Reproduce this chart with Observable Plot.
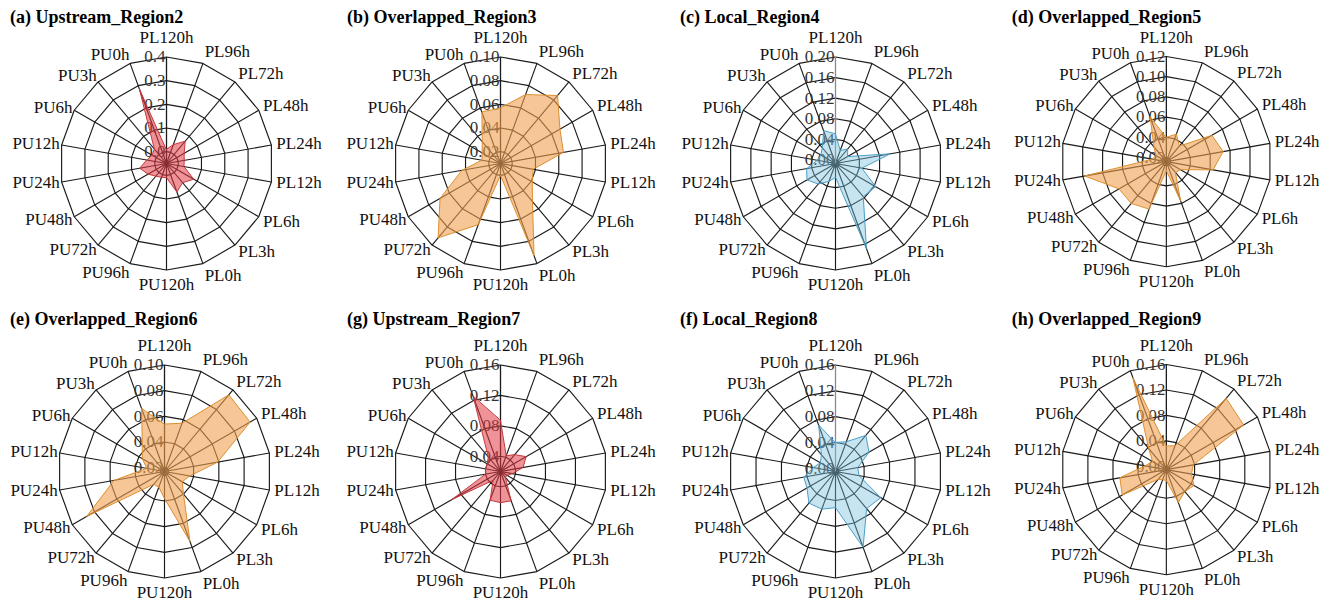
<!DOCTYPE html>
<html>
<head>
<meta charset="utf-8">
<script src="https://cdn.jsdelivr.net/npm/d3@7"></script>
<script src="https://cdn.jsdelivr.net/npm/@observablehq/plot@0.6"></script>
<style>
  html, body { margin: 0; padding: 0; background: #fff; }
  body { width: 1334px; height: 603px; overflow: hidden; position: relative;
         font-family: "Liberation Serif", "Times New Roman", serif; }
  .panel { position: absolute; }
  .title { position: absolute; font-weight: bold; font-size: 18px; line-height: 1;
           white-space: nowrap; color: #000; z-index: 2; }
</style>
</head>
<body>
<script>
// ---------- data ----------
const axes = ["PL120h","PL96h","PL72h","PL48h","PL24h","PL12h","PL6h","PL3h","PL0h",
              "PU120h","PU96h","PU72h","PU48h","PU24h","PU12h","PU6h","PU3h","PU0h"];

const titles = ["(a) Upstream_Region2","(b) Overlapped_Region3","(c) Local_Region4","(d) Overlapped_Region5",
                "(e) Overlapped_Region6","(g) Upstream_Region7","(f) Local_Region8","(h) Overlapped_Region9"];

const kinds = ["Upstream","Overlapped","Local","Overlapped","Overlapped","Upstream","Local","Overlapped"];

const upstreamRegion2   = [0.010,0.035,0.073,0.036,0.026,0.025,0.083,0.056,0.078,0.010,0.012,0.020,0.040,0.065,0.035,0.020,0.030,0.285];
const overlappedRegion3 = [0.057,0.072,0.085,0.068,0.064,0.038,0.041,0.052,0.093,0.020,0.065,0.092,0.069,0.043,0.026,0.028,0.034,0.056];
const localRegion4      = [0.050,0.020,0.030,0.020,0.101,0.045,0.083,0.077,0.169,0.020,0.030,0.045,0.057,0.050,0.029,0.026,0.033,0.060];
const overlappedRegion5 = [0.040,0.045,0.036,0.068,0.073,0.063,0.032,0.030,0.057,0.025,0.066,0.070,0.070,0.098,0.030,0.028,0.035,0.063];
const overlappedRegion6 = [0.054,0.057,0.095,0.094,0.059,0.037,0.033,0.040,0.075,0.038,0.030,0.030,0.087,0.057,0.031,0.037,0.044,0.069];
const upstreamRegion7   = [0.087,0.042,0.049,0.059,0.050,0.036,0.030,0.030,0.061,0.061,0.060,0.035,0.094,0.040,0.040,0.040,0.045,0.125];
const localRegion8      = [0.040,0.044,0.068,0.055,0.030,0.032,0.076,0.070,0.120,0.051,0.057,0.059,0.046,0.045,0.030,0.022,0.029,0.071];
const overlappedRegion9 = [0.032,0.035,0.141,0.135,0.038,0.035,0.045,0.040,0.050,0.012,0.012,0.015,0.075,0.069,0.029,0.020,0.038,0.148];

const ticksA = [0, 0.1, 0.2, 0.3, 0.4];               const tickTextA = ["0.0","0.1","0.2","0.3","0.4"];
const ticksB = [0.02, 0.04, 0.06, 0.08, 0.10];        const tickTextB = ["0.02","0.04","0.06","0.08","0.10"];
const ticksC = [0, 0.04, 0.08, 0.12, 0.16, 0.20];     const tickTextC = ["0.00","0.04","0.08","0.12","0.16","0.20"];
const ticksD = [0.02, 0.04, 0.06, 0.08, 0.10, 0.12];  const tickTextD = ["0.02","0.04","0.06","0.08","0.10","0.12"];
const ticksE = [0.02, 0.04, 0.06, 0.08, 0.10];        const tickTextE = ["0.02","0.04","0.06","0.08","0.10"];
const ticksG = [0.04, 0.08, 0.12, 0.16];              const tickTextG = ["0.04","0.08","0.12","0.16"];
const ticksF = [0, 0.04, 0.08, 0.12, 0.16];           const tickTextF = ["0.00","0.04","0.08","0.12","0.16"];
const ticksH = [0, 0.04, 0.08, 0.12, 0.16];           const tickTextH = ["0.00","0.04","0.08","0.12","0.16"];

// radial scale: value at the centre and at the outer ring
const radialLow  = [-0.05, 0.01, -0.007, 0.016, 0.017, 0.02, -0.005, -0.005];
const radialHigh = [0.4, 0.10, 0.20, 0.12, 0.10, 0.16, 0.16, 0.16];

// ---------- styling / layout ----------
const palette = {
  Upstream:   {fill: "#e23a44", opacity: 0.55, stroke: "#c43a3f", spoke0: "#1a1a1a"},
  Overlapped: {fill: "#f0a050", opacity: 0.60, stroke: "#dd8f2e", spoke0: "#1a1a1a"},
  Local:      {fill: "#79bedd", opacity: 0.42, stroke: "#4a9fc8", spoke0: "#8a8a8a"}
};
const centers = [[165.5,163],[500,162.7],[835,162.7],[1168.3,162.7],
                 [164,470.5],[500,470.7],[835,470.7],[1168.3,470.7]];
const titlePos = [[10,8],[347,8],[680,8],[1011.7,8],
                  [10,310],[347,310],[680,310],[1011.7,310]];
const labelDy = [-14,-7,-5,-2,-1,0,2,3,7, 10,7,3,2,0,-1,-2,-5,-7];

const seriesList = [upstreamRegion2, overlappedRegion3, localRegion4, overlappedRegion5,
                    overlappedRegion6, upstreamRegion7, localRegion8, overlappedRegion9];
const tickList = [ticksA,ticksB,ticksC,ticksD,ticksE,ticksG,ticksF,ticksH];
const tickTextList = [tickTextA,tickTextB,tickTextC,tickTextD,tickTextE,tickTextG,tickTextF,tickTextH];

const R = 106.5, W = 340, H = 300;
const n = axes.length;
const theta = i => 2 * Math.PI * i / n;
const FONT = "'Liberation Serif', 'Times New Roman', serif";

function radar(k) {
  const lo = radialLow[k], hi = radialHigh[k];
  const rn = v => Math.max(0, (v - lo) / (hi - lo));
  const col = palette[kinds[k]];
  const values = seriesList[k];
  const ticks = tickList[k];
  const tickText = tickTextList[k];

  const pts = values.map((v, i) => ({axis: axes[i], v, i}));
  const ringPts = ticks.filter(t => rn(t) > 0.001)
    .flatMap(t => axes.map((a, i) => ({t, i})));
  const spokes = axes.map((a, i) => ({a, i}));

  const labelMarks = axes.map((a, i) => {
    const s = Math.sin(theta(i)), c = Math.cos(theta(i));
    const side = Math.abs(s) < 0.01 ? "middle" : (s > 0 ? "start" : "end");
    const rr = 1 + (side === "end" ? 2 : 5) / R;
    return Plot.text([a], {
      x: () => rr * s, y: () => rr * c, text: d => d,
      textAnchor: side, dy: labelDy[i], fontSize: 17, fill: "#111", fontFamily: FONT
    });
  });

  return Plot.plot({
    width: W, height: H, margin: 0,
    x: {domain: [-W / 2 / R, W / 2 / R], axis: null},
    y: {domain: [-H / 2 / R, H / 2 / R], axis: null},
    style: {fontFamily: FONT, background: "transparent", overflow: "visible"},
    marks: [
      Plot.line(ringPts, {
        x: d => rn(d.t) * Math.sin(theta(d.i)), y: d => rn(d.t) * Math.cos(theta(d.i)),
        z: "t", curve: "linear-closed", stroke: "#1a1a1a", strokeWidth: 1.15
      }),
      Plot.link(spokes.filter(d => d.i !== 0), {
        x1: () => 0, y1: () => 0,
        x2: d => Math.sin(theta(d.i)), y2: d => Math.cos(theta(d.i)),
        stroke: "#1a1a1a", strokeWidth: 1.15
      }),
      Plot.link(spokes.filter(d => d.i === 0), {
        x1: () => 0, y1: () => 0,
        x2: d => Math.sin(theta(d.i)), y2: d => Math.cos(theta(d.i)),
        stroke: col.spoke0, strokeWidth: 1.3
      }),
      Plot.text(ticks, {
        x: () => 0, y: t => rn(t), text: (t, i) => tickText[i],
        textAnchor: "end", dx: -1, fontSize: 17, fill: "#333", fontFamily: FONT
      }),
      Plot.line(pts, {
        x: d => rn(d.v) * Math.sin(theta(d.i)), y: d => rn(d.v) * Math.cos(theta(d.i)),
        curve: "linear-closed", fill: col.fill, fillOpacity: col.opacity,
        stroke: col.stroke, strokeWidth: 1
      }),
      ...labelMarks
    ]
  });
}

for (let k = 0; k < 8; k++) {
  const div = document.createElement("div");
  div.className = "panel";
  div.style.left = (centers[k][0] - W / 2) + "px";
  div.style.top = (centers[k][1] - H / 2) + "px";
  div.appendChild(radar(k));
  document.body.appendChild(div);

  const t = document.createElement("div");
  t.className = "title";
  t.style.left = titlePos[k][0] + "px";
  t.style.top = titlePos[k][1] + "px";
  t.textContent = titles[k];
  document.body.appendChild(t);
}
</script>
</body>
</html>
